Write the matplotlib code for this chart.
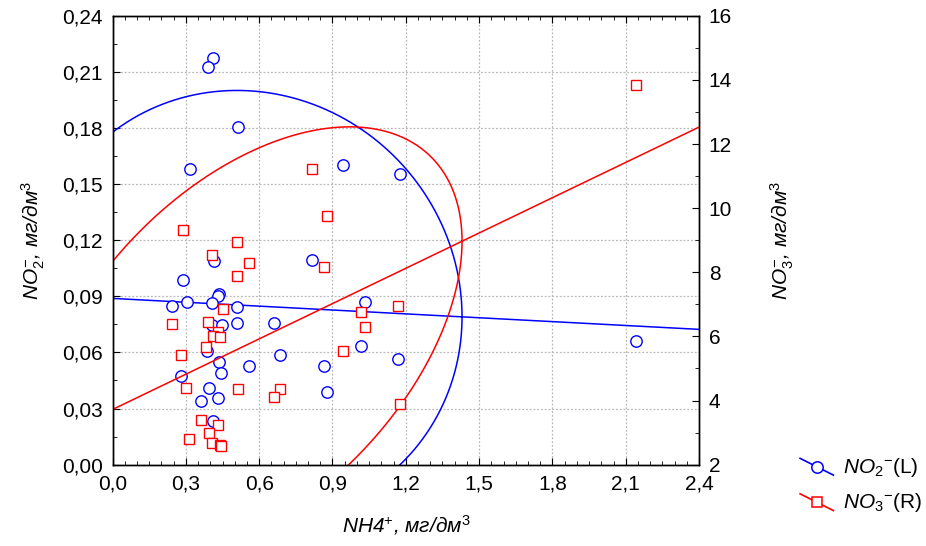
import numpy as np
import matplotlib.pyplot as plt
from matplotlib.lines import Line2D
from matplotlib.legend_handler import HandlerBase
from matplotlib.ticker import MultipleLocator

plt.rcParams['font.family'] = 'Liberation Sans'
plt.rcParams['mathtext.fontset'] = 'custom'
plt.rcParams['mathtext.rm'] = 'Liberation Sans'
plt.rcParams['mathtext.it'] = 'Liberation Sans:italic'
plt.rcParams['mathtext.bf'] = 'Liberation Sans:bold'

# NH4+ (x) та NO2- (ліва вісь)
nh4_a = [0.413, 0.390, 0.315, 0.417, 0.290, 0.437, 0.431, 0.243, 0.304, 0.406,
         0.406, 0.447, 0.386, 0.437, 0.444, 0.279, 0.395, 0.433, 0.362, 0.410,
         0.514, 0.942, 1.176, 0.818, 1.033, 0.508, 0.508, 0.661, 1.018, 0.686,
         1.169, 0.559, 0.867, 0.877, 2.142]
no2 = [0.2172, 0.2124, 0.1579, 0.1090, 0.0990, 0.0912, 0.0901, 0.0848, 0.0871, 0.0862,
       0.0746, 0.0746, 0.0609, 0.0547, 0.0488, 0.0475, 0.0411, 0.0357, 0.0341, 0.0234,
       0.1806, 0.1605, 0.1552, 0.1092, 0.0871, 0.0844, 0.0755, 0.0755, 0.0634, 0.0586,
       0.0564, 0.0525, 0.0525, 0.0389, 0.0660]

# NH4+ (x) та NO3- (права вісь)
nh4_b = [0.290, 0.406, 0.450, 0.245, 0.390, 0.433, 0.413, 0.440, 0.383, 0.281,
         0.301, 0.362, 0.433, 0.395, 0.313, 0.406, 0.440, 0.444,
         2.142, 0.818, 0.877, 0.508, 0.559, 0.867, 0.508, 1.018, 1.169, 1.033,
         0.942, 0.515, 0.686, 0.661, 1.176]
no3 = [9.31, 8.54, 6.84, 6.40, 6.45, 6.14, 6.01, 5.97, 5.66, 5.42,
       4.40, 3.39, 3.23, 2.99, 2.79, 2.68, 2.61, 2.58,
       13.84, 11.21, 9.76, 8.95, 8.29, 8.17, 7.89, 6.75, 6.95, 6.28,
       5.54, 4.36, 4.36, 4.12, 3.89]

# регресія (вільний член, нахил)
fit_no2 = (0.0889, -0.0069)
fit_no3 = (3.72, 3.671)
# еліпси: центр x, центр y, піввісь x, піввісь y, r
ell_no2 = (0.555, 0.0851, 0.875, 0.115, -0.0525)
ell_no3 = (0.555, 5.757, 0.875, 6.78, 0.474)

x_ticks = [0.0, 0.3, 0.6, 0.9, 1.2, 1.5, 1.8, 2.1, 2.4]
x_labels = ['0,0', '0,3', '0,6', '0,9', '1,2', '1,5', '1,8', '2,1', '2,4']
l_ticks = [0.0, 0.03, 0.06, 0.09, 0.12, 0.15, 0.18, 0.21, 0.24]
l_labels = ['0,00', '0,03', '0,06', '0,09', '0,12', '0,15', '0,18', '0,21', '0,24']
r_ticks = [2, 4, 6, 8, 10, 12, 14, 16]

BLUE = '#0000ff'
RED = '#ff0000'


def ellipse(p, n=400):
    mx, my, a, b, r = p
    t = np.linspace(0, 2 * np.pi, n)
    return mx + a * np.cos(t), my + b * (r * np.cos(t) + np.sqrt(1 - r * r) * np.sin(t))


class DiagHandler(HandlerBase):
    def create_artists(self, legend, orig, xd, yd, w, h, fontsize, trans):
        ln = Line2D([xd, xd + w], [yd + h * 1.0, yd - h * 0.15], color=orig.get_color(),
                    lw=1.2, transform=trans)
        mk = Line2D([xd + w / 2], [yd + h * 0.42], marker=orig.get_marker(),
                    ms=orig.get_markersize(), mfc='white', mec=orig.get_markeredgecolor(),
                    mew=1.1, ls='none', transform=trans)
        return [ln, mk]


fig = plt.figure(figsize=(9.26, 5.46), dpi=100)
ax = fig.add_axes([0.1215, 0.149, 0.6335, 0.822])
ax2 = ax.twinx()

xx = np.array([0.0, 2.4])

# NO2 - ліва вісь
ax.plot(xx, fit_no2[0] + fit_no2[1] * xx, color=BLUE, lw=1.1, zorder=2)
ex, ey = ellipse(ell_no2)
ax.plot(ex, ey, color=BLUE, lw=1.1, zorder=2)
h1, = ax.plot(nh4_a, no2, ls='none', marker='o', ms=8.2, mfc='white', mec=BLUE,
              mew=1.0, color=BLUE, zorder=3, label='$\\mathit{NO}_{2}{}^{-}$(L)')

# NO3 - права вісь
ax2.plot(xx, fit_no3[0] + fit_no3[1] * xx, color=RED, lw=1.1, zorder=2)
ex, ey = ellipse(ell_no3)
ax2.plot(ex, ey, color=RED, lw=1.1, zorder=2)
h2, = ax2.plot(nh4_b, no3, ls='none', marker='s', ms=7.8, mfc='white', mec=RED,
               mew=1.0, color=RED, zorder=3, label='$\\mathit{NO}_{3}{}^{-}$(R)')

ax.set_xlim(0, 2.4)
ax.set_ylim(0, 0.24)
ax2.set_ylim(2, 16)

ax.set_xticks(x_ticks)
ax.set_xticklabels(x_labels)
ax.set_yticks(l_ticks)
ax.set_yticklabels(l_labels)
ax2.set_yticks(r_ticks)
ax.xaxis.set_minor_locator(MultipleLocator(0.05))
ax.yaxis.set_minor_locator(MultipleLocator(0.015))
ax2.yaxis.set_minor_locator(MultipleLocator(1))

ax.grid(True, which='major', color='#b8b8b8', ls=(0, (1.5, 1.5)), lw=0.9)
ax.set_axisbelow(True)

ax.tick_params(which='both', direction='in', top=True, labelsize=15, pad=7)
ax.tick_params(which='major', length=5)
ax.tick_params(which='minor', length=3)
ax2.tick_params(which='both', direction='in', labelsize=15, pad=7)
ax2.tick_params(which='major', length=5)
ax2.tick_params(which='minor', length=3)
for a in (ax, ax2):
    for s in a.spines.values():
        s.set_linewidth(1.0)

ax.set_xlabel('NH4$^{+}$, мг/дм$^{3}$', fontsize=15, style='italic', labelpad=14)
ax.set_ylabel('$\\mathit{NO}_2^{-}$, мг/дм$^{3}$', fontsize=15, style='italic', labelpad=11)
ax2.set_ylabel('$\\mathit{NO}_3^{-}$, мг/дм$^{3}$', fontsize=15, style='italic', labelpad=26)

fig.legend(handles=[h1, h2], loc='upper left', bbox_to_anchor=(0.864, 0.165),
           frameon=False, fontsize=15, handlelength=1.6, handletextpad=0.45,
           labelspacing=0.6, borderpad=0, borderaxespad=0,
           handler_map={Line2D: DiagHandler()})

fig.savefig('out.png', dpi=100)
